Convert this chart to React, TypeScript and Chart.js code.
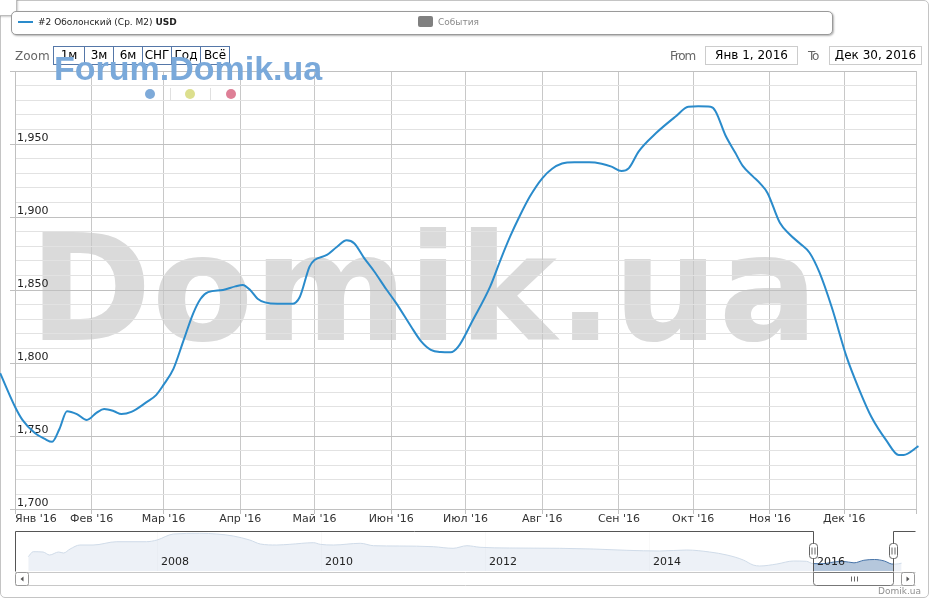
import React, { useEffect, useRef } from 'react';
import { Chart, registerables } from 'chart.js';

Chart.register(...registerables);

const FONT = '"DejaVu Sans", Verdana, sans-serif';

// ---- main series: day of 2016 (0 = Jan 1) and price, USD per m² ----
const seriesDays = [
  -6, 0, 3, 8, 12, 15, 18, 21, 25, 29, 33, 36, 40, 43, 47, 53, 57, 60, 64, 68,
  72, 75, 78, 84, 89, 92, 95, 98, 101, 106, 112, 115, 119, 121, 126, 130, 134, 137, 141, 145,
  150, 154, 160, 164, 168, 172, 176, 179, 185, 192, 196, 200, 204, 208, 213, 217, 221, 226, 232, 237,
  241, 245, 248, 252, 259, 267, 272, 276, 281, 283, 287, 291, 294, 298, 301, 304, 309, 313, 317, 321,
  325, 330, 336, 341, 346, 352, 357, 359, 365,
];
const seriesValues = [
  1793, 1770, 1761, 1752, 1748, 1746, 1755, 1767, 1765, 1761, 1766, 1768.5, 1767, 1765, 1766.5, 1773, 1778, 1785, 1796, 1815,
  1834, 1844, 1848.5, 1850, 1852.5, 1853.5, 1850, 1844, 1841.5, 1840.5, 1840.5, 1845, 1866, 1870.5, 1874, 1879.5, 1884, 1882, 1872, 1863,
  1850.5, 1841, 1825, 1815, 1809, 1807.5, 1807.3, 1811, 1829.5, 1852.5, 1870, 1886.5, 1901, 1914, 1926.5, 1933, 1936.6, 1937.5, 1937.5, 1936.5,
  1934.5, 1931.5, 1933.5, 1945, 1957.5, 1969, 1975.5, 1975.8, 1975.5, 1972.5, 1956, 1944, 1935, 1928, 1923, 1916.5, 1896, 1888, 1882, 1875.5,
  1862, 1838, 1804, 1782, 1763, 1747, 1737, 1737, 1743,
];

const monthTickDays = [0, 31, 60, 91, 121, 152, 182, 213, 244, 274, 305, 335, 364];
const monthTickLabels = [
  "Янв '16", "Фев '16", "Мар '16", "Апр '16", "Май '16", "Июн '16",
  "Июл '16", "Авг '16", "Сен '16", "Окт '16", "Ноя '16", "Дек '16", '',
];
const yMin = 1700;
const yMax = 2000;
const yStep = 10;
const yLabelStep = 50;

// ---- navigator (whole history) ----
const navYears = [
  2006.43, 2006.49, 2006.61, 2006.69, 2006.8, 2006.86, 2006.94, 2007.06, 2007.22, 2007.51,
  2007.87, 2008.0, 2008.2, 2008.52, 2008.73, 2008.93, 2009.13, 2009.26, 2009.46, 2009.62,
  2009.91, 2009.99, 2010.15, 2010.48, 2010.64, 2010.96, 2011.37, 2011.61, 2011.78, 2011.94,
  2012.3, 2012.91, 2013.32, 2013.73, 2014.13, 2014.46, 2014.74, 2014.95, 2015.15, 2015.27,
  2015.35, 2015.56, 2015.76, 2015.92, 2016.0, 2016.08, 2016.17, 2016.25, 2016.37, 2016.5,
  2016.62, 2016.75, 2016.87, 2016.96, 2017.0, 2017.08,
];
const navValues = [
  2115, 2365, 2350, 2200, 2350, 2300, 2500, 2700, 2700, 2865,
  2865, 2950, 3250, 3285, 3250, 3150, 2950, 2750, 2700, 2735,
  2815, 2735, 2700, 2785, 2665, 2650, 2615, 2535, 2665, 2585,
  2550, 2535, 2500, 2435, 2400, 2450, 2350, 2200, 1950, 1700,
  1650, 1750, 1900, 1885, 1770, 1765, 1785, 1850, 1880, 1808,
  1937, 1975, 1900, 1750, 1742, 1790,
];
const navTickYears = [2008, 2010, 2012, 2014, 2016];
const navMinYear = 2006.268;
const navMaxYear = 2017.256;
const navYMin = 1400;
const navYMax = 3400;
const selFrom = 2016.0;
const selTo = 2016.98;

const zoomButtons = ['1м', '3м', '6м', 'СНГ', 'Год', 'Всё'];
const fromText = 'Янв 1, 2016';
const toText = 'Дек 30, 2016';
const seriesName = '#2 Оболонский (Ср. М2) ';
const seriesUnit = 'USD';
const eventsName = 'События';

const LINE = '#2a8bcb';

const watermarkPlugin = {
  id: 'bigWatermark',
  beforeDraw(chart: any) {
    const ctx = chart.ctx;
    ctx.save();
    ctx.font = `bold 148px ${FONT}`;
    ctx.fillStyle = '#dadada';
    ctx.textBaseline = 'alphabetic';
    ctx.fillText('Domik.ua', 29, 340);
    ctx.restore();
  },
};

const navMaskPlugin = {
  id: 'navMask',
  afterDatasetsDraw(chart: any) {
    const { ctx, chartArea: a, scales } = chart;
    const x1 = scales.x.getPixelForValue(selFrom);
    const x2 = scales.x.getPixelForValue(selTo);
    ctx.save();
    ctx.fillStyle = 'rgba(255,255,255,0.75)';
    ctx.fillRect(a.left, a.top, x1 - a.left, a.bottom - a.top);
    ctx.fillRect(x2, a.top, a.right - x2, a.bottom - a.top);
    ctx.restore();
  },
  afterDraw(chart: any) {
    const { ctx, chartArea: a, scales } = chart;
    const x1 = Math.round(scales.x.getPixelForValue(selFrom)) + 0.5;
    const x2 = Math.round(scales.x.getPixelForValue(selTo)) + 0.5;
    const top = Math.round(a.top) + 0.5;
    const bottom = Math.round(a.bottom) + 0.5;
    const left = Math.round(a.left) + 0.5;
    const right = Math.round(a.right) - 0.5;
    ctx.save();
    // outline
    ctx.strokeStyle = '#555';
    ctx.lineWidth = 1;
    ctx.beginPath();
    ctx.moveTo(left, bottom);
    ctx.lineTo(left, top);
    ctx.lineTo(x1, top);
    ctx.lineTo(x1, bottom);
    ctx.moveTo(x2, bottom);
    ctx.lineTo(x2, top);
    ctx.lineTo(right, top);
    ctx.stroke();
    // scrollbar track
    const sTop = bottom + 1;
    const sBot = sTop + 13;
    ctx.strokeStyle = '#c8c8c8';
    ctx.beginPath();
    ctx.moveTo(left, sTop);
    ctx.lineTo(right, sTop);
    ctx.moveTo(left, sBot);
    ctx.lineTo(right, sBot);
    ctx.stroke();
    // thumb
    ctx.fillStyle = '#fff';
    ctx.strokeStyle = '#777';
    ctx.beginPath();
    (ctx as any).roundRect(x1, sTop, x2 - x1, sBot - sTop, [0, 0, 3, 3]);
    ctx.fill();
    ctx.stroke();
    const cx = Math.round((x1 + x2) / 2) + 0.5;
    ctx.strokeStyle = '#666';
    ctx.beginPath();
    for (const dx of [-3, 0, 3]) {
      ctx.moveTo(cx + dx, sTop + 4);
      ctx.lineTo(cx + dx, sBot - 4);
    }
    ctx.stroke();
    // arrow buttons
    const btn = (bx: number, dir: number) => {
      ctx.fillStyle = '#fff';
      ctx.strokeStyle = '#999';
      ctx.beginPath();
      (ctx as any).roundRect(bx, sTop, 13, 13, 2);
      ctx.fill();
      ctx.stroke();
      const mx = bx + 6.5;
      const my = sTop + 6.5;
      ctx.fillStyle = '#555';
      ctx.beginPath();
      ctx.moveTo(mx - 1.5 * dir, my - 2.5);
      ctx.lineTo(mx - 1.5 * dir, my + 2.5);
      ctx.lineTo(mx + 1.5 * dir, my);
      ctx.closePath();
      ctx.fill();
    };
    btn(left, -1);
    btn(right - 14, 1);
    // handles
    for (const hx of [x1, x2]) {
      ctx.fillStyle = '#fff';
      ctx.strokeStyle = '#666';
      ctx.beginPath();
      (ctx as any).roundRect(hx - 4, top + 12, 8, 15, 3);
      ctx.fill();
      ctx.stroke();
      ctx.beginPath();
      ctx.moveTo(hx - 1.5, top + 16);
      ctx.lineTo(hx - 1.5, top + 23);
      ctx.moveTo(hx + 1.5, top + 16);
      ctx.lineTo(hx + 1.5, top + 23);
      ctx.stroke();
    }
    ctx.restore();
  },
};

function mainConfig(): any {
  return {
    type: 'line',
    data: {
      datasets: [
        {
          data: seriesDays.map((d, i) => ({ x: d, y: seriesValues[i] })),
          borderColor: LINE,
          borderWidth: 2,
          pointRadius: 0,
          fill: false,
          cubicInterpolationMode: 'monotone',
          clip: { left: 16, right: 3, top: 2, bottom: 0 },
        },
      ],
    },
    options: {
      animation: false,
      responsive: false,
      events: [],
      layout: { padding: { left: 6, top: 71, right: 15, bottom: 74.8 } },
      plugins: { legend: { display: false }, tooltip: { enabled: false } },
      scales: {
        x: {
          type: 'linear',
          min: 0,
          max: 364,
          afterBuildTicks: (s: any) => {
            s.ticks = monthTickDays.map((v) => ({ value: v }));
          },
          ticks: {
            callback: (_v: any, i: number) => monthTickLabels[i],
            align: 'inner',
            autoSkip: false,
            maxRotation: 0,
            padding: -1,
            color: '#333',
            font: { family: FONT, size: 11 },
          },
          grid: { color: '#c8c8c8', tickLength: 5, tickColor: '#c0c0c0' },
          border: { color: '#c0c0c0' },
        },
        y: {
          min: yMin,
          max: yMax,
          ticks: {
            stepSize: yStep,
            autoSkip: false,
            mirror: true,
            padding: 2,
            labelOffset: -6,
            color: '#222',
            font: { family: FONT, size: 11 },
            callback: (v: any) => {
              const n = Number(v);
              return n % yLabelStep === 0 && n < yMax ? n.toLocaleString('en-US') : '';
            },
          },
          grid: {
            tickLength: 5,
            color: (c: any) => (c.tick && c.tick.value % yLabelStep === 0 ? '#c0c0c0' : '#e2e2e2'),
            tickColor: (c: any) => (c.tick && c.tick.value % yLabelStep === 0 ? '#c0c0c0' : 'rgba(0,0,0,0)'),
          },
          border: { color: '#c0c0c0' },
        },
      },
    },
    plugins: [watermarkPlugin],
  };
}

function navConfig(): any {
  return {
    type: 'line',
    data: {
      datasets: [
        {
          data: navYears.map((y, i) => ({ x: y, y: navValues[i] })),
          borderColor: '#4572A7',
          borderWidth: 1,
          backgroundColor: 'rgba(69,114,167,0.4)',
          fill: 'start',
          pointRadius: 0,
          cubicInterpolationMode: 'monotone',
        },
      ],
    },
    options: {
      animation: false,
      responsive: false,
      events: [],
      layout: { padding: { left: 15, top: 6, right: 15, bottom: 25 } },
      plugins: { legend: { display: false }, tooltip: { enabled: false } },
      scales: {
        x: {
          type: 'linear',
          min: navMinYear,
          max: navMaxYear,
          afterBuildTicks: (s: any) => {
            s.ticks = navTickYears.map((v) => ({ value: v }));
          },
          ticks: {
            z: 1,
            mirror: true,
            align: 'start',
            padding: 2,
            labelOffset: 4,
            autoSkip: false,
            maxRotation: 0,
            color: '#222',
            font: { family: FONT, size: 11 },
            callback: (v: any) => String(v),
          },
          grid: { color: '#e6e6e6', drawTicks: false },
          border: { display: false },
        },
        y: { display: false, min: navYMin, max: navYMax },
      },
    },
    plugins: [navMaskPlugin],
  };
}

const abs = (s: React.CSSProperties): React.CSSProperties => ({ position: 'absolute', ...s });

export default function App() {
  const mainRef = useRef<HTMLCanvasElement>(null);
  const navRef = useRef<HTMLCanvasElement>(null);

  useEffect(() => {
    const main = new Chart(mainRef.current as HTMLCanvasElement, mainConfig());
    const nav = new Chart(navRef.current as HTMLCanvasElement, navConfig());
    return () => {
      main.destroy();
      nav.destroy();
    };
  }, []);

  return (
    <div style={{ position: 'fixed', left: 0, top: 0, width: 931, height: 600, background: '#fff', overflow: 'hidden', fontFamily: FONT }}>
      <div style={abs({ left: 0, top: 0, width: 929, height: 598, boxSizing: 'border-box', border: '1px solid #c4c4c4', borderRadius: 5 })} />
      <canvas ref={mainRef} width={931} height={600} style={abs({ left: 0, top: 0 })} />
      <canvas ref={navRef} width={931} height={75} style={abs({ left: 0, top: 525 })} />

      {/* top-left tab */}
      <div style={abs({ left: -1, top: -1, width: 18, height: 17, boxSizing: 'border-box', border: '1px solid #bdbdbd', borderRadius: '0 0 4px 0', background: '#fff', boxShadow: '1px 1px 2px rgba(0,0,0,0.2)' })} />

      {/* legend */}
      <div style={abs({ left: 11, top: 11, width: 822, height: 24, boxSizing: 'border-box', border: '1px solid #9a9a9a', borderRadius: 5, background: '#fff', boxShadow: '1px 1px 2px rgba(0,0,0,0.3)' })} />
      <div style={abs({ left: 18, top: 21, width: 15, height: 2, background: LINE })} />
      <div style={abs({ left: 38, top: 16, fontSize: 9, lineHeight: '13px', color: '#222', whiteSpace: 'nowrap' })}>
        {seriesName}
        <b>{seriesUnit}</b>
      </div>
      <div style={abs({ left: 418, top: 16, width: 15, height: 11, borderRadius: 2, background: '#808080' })} />
      <div style={abs({ left: 438, top: 16, fontSize: 9, lineHeight: '13px', color: '#8a8a8a', whiteSpace: 'nowrap' })}>{eventsName}</div>

      {/* range selector */}
      <div style={abs({ left: 15, top: 48, fontSize: 12, lineHeight: '16px', color: '#666' })}>Zoom</div>
      <div style={abs({ left: 53, top: 46, height: 19, display: 'flex', boxSizing: 'border-box', border: '1px solid #5577a8' })}>
        {zoomButtons.map((b, i) => (
          <div key={b} style={{ width: i === 0 ? 30 : 29, height: 17, boxSizing: 'border-box', borderLeft: i === 0 ? 'none' : '1px solid #5577a8', fontSize: 12, lineHeight: '17px', textAlign: 'center', color: '#000' }}>
            {b}
          </div>
        ))}
      </div>
      <div style={abs({ left: 670, top: 48, fontSize: 12, letterSpacing: -1.2, lineHeight: '16px', color: '#666' })}>From</div>
      <div style={abs({ left: 705, top: 46, width: 93, height: 19, boxSizing: 'border-box', border: '1px solid #ccc', fontSize: 12, lineHeight: '17px', textAlign: 'center', color: '#000' })}>{fromText}</div>
      <div style={abs({ left: 808, top: 48, fontSize: 12, letterSpacing: -1.2, lineHeight: '16px', color: '#666' })}>To</div>
      <div style={abs({ left: 829, top: 46, width: 93, height: 19, boxSizing: 'border-box', border: '1px solid #ccc', fontSize: 12, lineHeight: '17px', textAlign: 'center', color: '#000' })}>{toText}</div>

      {/* forum watermark */}
      <div style={abs({ left: 54, top: 51, fontFamily: '"Liberation Sans", Arial, sans-serif', fontWeight: 'bold', fontSize: 34, lineHeight: '34px', color: '#7aa9da', whiteSpace: 'nowrap' })}>Forum.Domik.ua</div>
      <div style={abs({ left: 145, top: 89, width: 10, height: 10, borderRadius: 5, background: '#7eaad9' })} />
      <div style={abs({ left: 170, top: 88, width: 1, height: 12, background: '#e0e0e0' })} />
      <div style={abs({ left: 185, top: 89, width: 10, height: 10, borderRadius: 5, background: '#dcdf8e' })} />
      <div style={abs({ left: 210, top: 88, width: 1, height: 12, background: '#e0e0e0' })} />
      <div style={abs({ left: 226, top: 89, width: 10, height: 10, borderRadius: 5, background: '#de7f96' })} />

      {/* credit */}
      <div style={abs({ right: 10, top: 585, fontSize: 9, lineHeight: '12px', color: '#909090' })}>Domik.ua</div>
    </div>
  );
}
